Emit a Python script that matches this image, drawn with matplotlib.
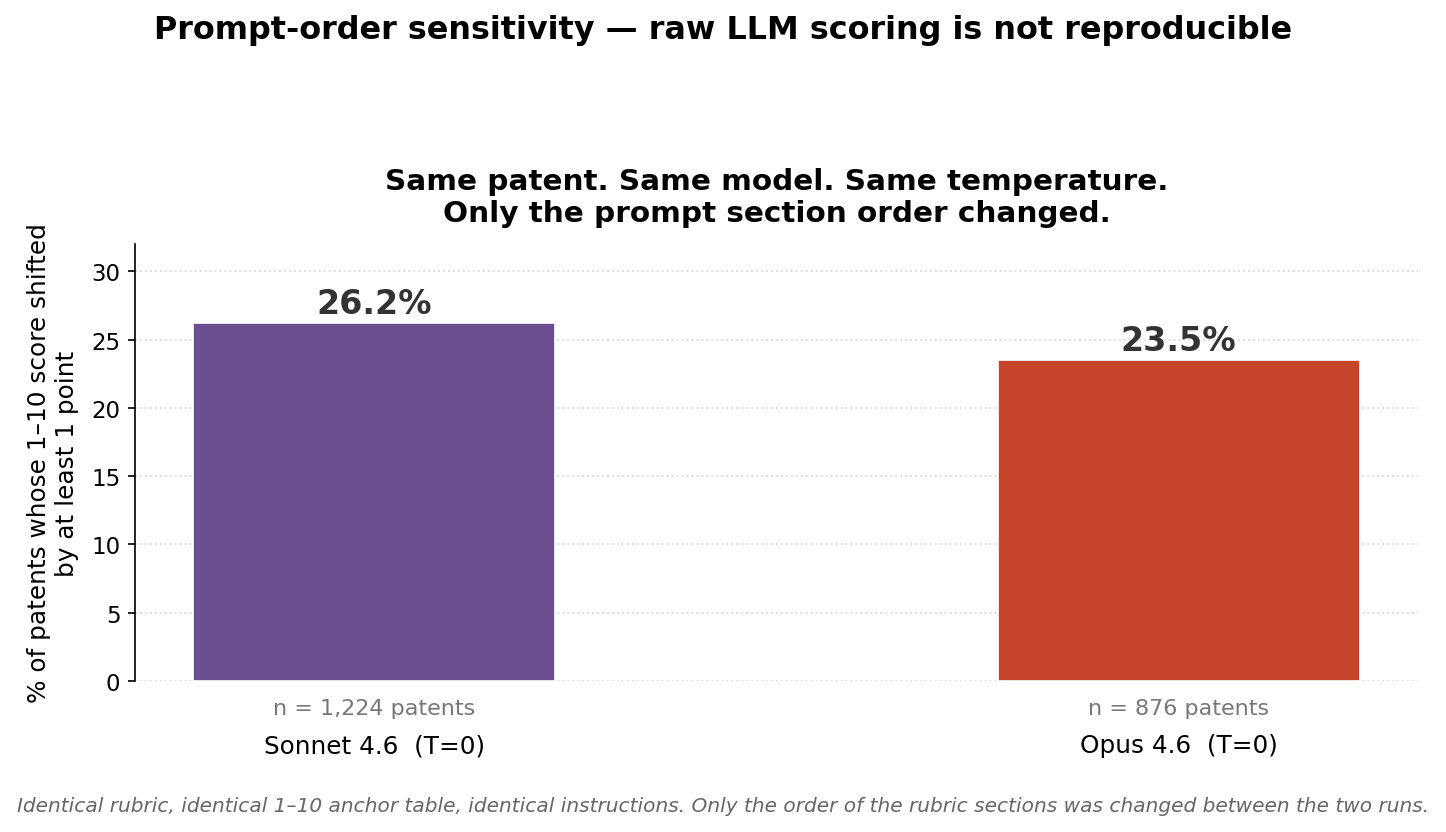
import matplotlib.pyplot as plt

# data
models = ["Sonnet 4.6  (T=0)", "Opus 4.6  (T=0)"]
pct_shifted = [26.2, 23.5]
n_labels = ["n = 1,224 patents", "n = 876 patents"]
colors = ["#6a4e8f", "#c7462b"]

fig, ax = plt.subplots(figsize=(9.64, 5.553), dpi=150)
fig.subplots_adjust(left=0.0934, right=0.9806, top=0.7059, bottom=0.1813)

x = list(range(len(models)))
bars = ax.bar(x, pct_shifted, width=0.45, color=colors, edgecolor="white", linewidth=0.8, zorder=3)

# value labels on top of bars
for xi, v in zip(x, pct_shifted):
    ax.text(xi, v + 0.2, f"{v}%", ha="center", va="bottom",
            fontsize=16, fontweight="bold", color="#333333", zorder=4)

# sample size under each bar
for xi, lab in zip(x, n_labels):
    ax.text(xi, -0.062, lab, ha="center", va="center", fontsize=10.7,
            color="#777777", transform=ax.get_xaxis_transform())

ax.set_xticks(x)
ax.set_xticklabels(models, fontsize=11.9)
ax.tick_params(axis="x", length=0, pad=25)
ax.tick_params(axis="y", labelsize=11)

ax.set_ylim(0, 32)
ax.set_yticks([0, 5, 10, 15, 20, 25, 30])
ax.set_ylabel("% of patents whose 1\u201310 score shifted\nby at least 1 point", fontsize=11.9, labelpad=6)

ax.grid(axis="y", linestyle=":", color="#d9d9d9", linewidth=0.9, zorder=0)
ax.spines["top"].set_visible(False)
ax.spines["right"].set_visible(False)
ax.spines["bottom"].set_visible(False)

ax.set_title("Same patent. Same model. Same temperature.\nOnly the prompt section order changed.",
             fontsize=14.15, fontweight="bold", pad=11)
fig.suptitle("Prompt-order sensitivity \u2014 raw LLM scoring is not reproducible",
             fontsize=15.3, fontweight="bold", y=0.982)

fig.text(0.5, 0.032, "Identical rubric, identical 1\u201310 anchor table, identical instructions. "
         "Only the order of the rubric sections was changed between the two runs.",
         ha="center", va="center", fontsize=9.65, style="italic", color="#666666")

fig.savefig("out.png", dpi=150)
